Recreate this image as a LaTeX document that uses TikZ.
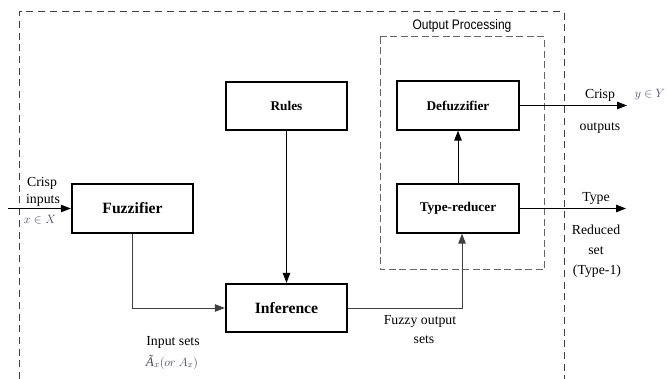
\documentclass[tikz,border=0pt]{standalone}
\usepackage{fontspec}
\setmainfont{Liberation Serif}
\newfontfamily\arialfont{Liberation Sans}
\usetikzlibrary{arrows.meta}
\definecolor{mathc}{RGB}{70,72,95}
\begin{document}
\begin{tikzpicture}[x=1pt,y=-1pt,
  blk/.style={draw, line width=1.8pt, minimum width=121.5pt, minimum height=48.5pt, inner sep=0pt, font=\bfseries\fontsize{13.3}{15}\selectfont},
  bigblk/.style={blk, font=\bfseries\fontsize{15.7}{18}\selectfont},
  arr/.style={line width=1pt, -{Triangle[length=10pt,width=7.5pt]}},
  garr/.style={arr, draw=black!75},
  lbl/.style={font=\fontsize{13.8}{16}\selectfont, inner sep=0pt, anchor=base},
  mlbl/.style={font=\fontsize{13.2}{15}\selectfont, inner sep=0pt, anchor=base, text=mathc},
  outerdash/.style={draw=black!75, line width=1pt, dash pattern=on 7pt off 4.7pt},
  opdash/.style={draw=black!60, line width=1pt, dash pattern=on 7pt off 3.5pt},
]
\useasboundingbox (0,0) rectangle (669,379);

% dashed frames
\draw[outerdash] (19,379) -- (19,12) -- (564,12) -- (564,379);
\draw[opdash] (380,37) rectangle (544,270);
\node[inner sep=0pt, anchor=base] (optitle) at (462,30) {\scalebox{0.87}[1]{\arialfont\fontsize{13.8}{16}\selectfont Output Processing}};

% blocks
\node[blk] (rules) at (286.5,106) {Rules};
\node[bigblk] (fuzz) at (132.5,208.5) {Fuzzifier};
\node[bigblk] (inf) at (286.5,308) {Inference};
\node[blk] (defuzz) at (458,105.5) {Defuzzifier};
\node[blk] (tr) at (458,208.5) {Type-reducer};

% free ends
\coordinate (inl) at (8,208.5);
\coordinate (yout) at (627,105.5);
\coordinate (tout) at (626,208.5);

% connectors
\draw[arr] (inl) -- (fuzz.west);
\draw[garr] (fuzz.south) |- (inf.west);
\draw[arr] (rules.south) -- (inf.north);
\draw[garr] (inf.east) -| ([xshift=4pt]tr.south);
\draw[arr] (tr.north) -- (defuzz.south);
\draw[arr] (defuzz.east) -- (yout);
\draw[arr] (tr.east) -- (tout);

% labels
\node[lbl] (ci1) at (42,186.5) {Crisp};
\node[lbl] (ci2) at (43,204) {inputs};
\node[mlbl] (ci3) at (40,224) {$x \in X$};

\node[lbl] (co1) at (600,98.5) {Crisp};
\node[lbl] (co2) at (600,130.5) {outputs};
\node[mlbl] (co3) at (650,97.5) {$y \in Y$};

\node[lbl] (t1) at (596,202) {Type};
\node[lbl] (t2) at (596,234.5) {Reduced};
\node[lbl] (t3) at (596,254.5) {set};
\node[lbl] (t4) at (597,274.5) {(Type-1)};

\node[lbl] (is1) at (173,345) {Input sets};
\node[mlbl] (is2) at (172,366) {${\hbox{\itshape Ã}}_x(or\ A_x)$};

\node[lbl] (fo1) at (420,324) {Fuzzy output};
\node[lbl] (fo2) at (424,343) {sets};
\end{tikzpicture}
\end{document}
